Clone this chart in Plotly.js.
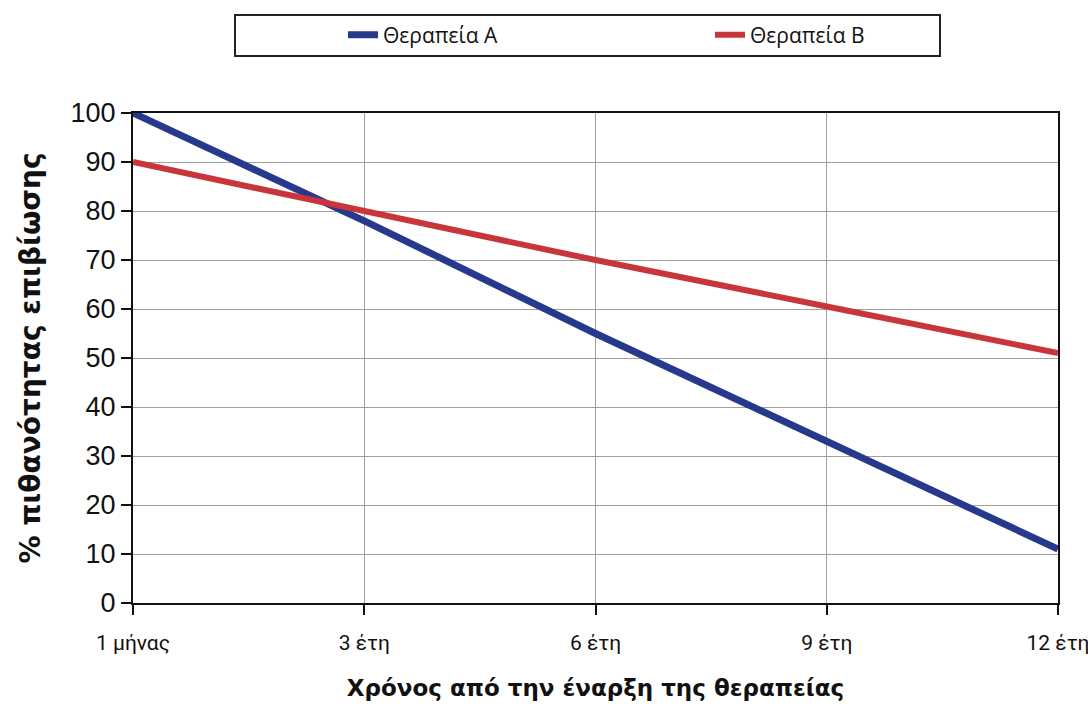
<!DOCTYPE html>
<html>
<head>
<meta charset="utf-8">
<script src="https://cdn.plot.ly/plotly-3.0.1.min.js"></script>
<style>html,body{margin:0;padding:0;background:#fff;}#chart{width:1088px;height:726px;}</style>
</head>
<body>
<div id="chart"></div>
<script>
const categories = ["1 μήνας", "3 έτη", "6 έτη", "9 έτη", "12 έτη"];
const seriesA = [100, 78, 55, 33, 11];
const seriesB = [90, 80, 70, 60.5, 51];
const nameA = "Θεραπεία A";
const nameB = "Θεραπεία B";
const yTicks = [0, 10, 20, 30, 40, 50, 60, 70, 80, 90, 100];

const W = 1088, H = 726;
const L = 133, R = 30, T = 113, B = 123;
const pw = W - L - R, ph = H - T - B;
const px = v => (v - L) / pw;
const py = v => (H - B - v) / ph;

const xIdx = categories.map((c, i) => i);

const traces = [
  {x: xIdx, y: seriesA, name: nameA, type: "scatter", mode: "lines", legend: "legend",
   line: {color: "#27398c", width: 7}},
  {x: xIdx, y: seriesB, name: nameB, type: "scatter", mode: "lines", legend: "legend2",
   line: {color: "#c8363b", width: 6}}
];

const legendFont = {family: "Open Sans, Noto Sans, DejaVu Sans, sans-serif", size: 21, color: "#111"};

const layout = {
  width: W, height: H,
  margin: {l: L, r: R, t: T, b: B},
  paper_bgcolor: "#fff", plot_bgcolor: "#fff",
  font: {family: "Liberation Sans, Arial, sans-serif", color: "#111"},
  xaxis: {
    range: [0, 4], tickvals: xIdx, ticktext: categories,
    showgrid: true, gridcolor: "#a0a0a0", gridwidth: 1,
    showline: true, linecolor: "#111", linewidth: 2, mirror: true,
    ticks: "outside", ticklen: 10, tickwidth: 2, tickcolor: "#111",
    ticklabelstandoff: 10, ticklabeloverflow: "allow",
    tickfont: {family: "Liberation Sans Narrow, Roboto, Liberation Sans, sans-serif", size: 21, color: "#111"},
    zeroline: false,
    title: {text: "Χρόνος από την έναρξη της θεραπείας", standoff: 26,
            font: {family: "DejaVu Sans, sans-serif", size: 23, color: "#111", weight: "bold"}}
  },
  yaxis: {
    range: [0, 100], tickvals: yTicks,
    showgrid: true, gridcolor: "#a0a0a0", gridwidth: 1,
    showline: true, linecolor: "#111", linewidth: 2, mirror: true,
    ticks: "outside", ticklen: 10, tickwidth: 2, tickcolor: "#111",
    ticklabelstandoff: 0,
    tickfont: {family: "Liberation Sans, Arial, sans-serif", size: 27, color: "#111"},
    zeroline: false,
    title: {text: "% πιθανότητας επιβίωσης", standoff: 22,
            font: {family: "DejaVu Sans, sans-serif", size: 28, color: "#111", weight: "bold"}}
  },
  showlegend: true,
  legend: {
    orientation: "h", x: px(343), xanchor: "left", y: py(35), yanchor: "middle",
    bgcolor: "rgba(0,0,0,0)", borderwidth: 0, font: legendFont
  },
  legend2: {
    orientation: "h", x: px(710), xanchor: "left", y: py(35), yanchor: "middle",
    bgcolor: "rgba(0,0,0,0)", borderwidth: 0, font: legendFont
  },
  shapes: [
    {type: "rect", xref: "paper", yref: "paper",
     x0: px(235), x1: px(940), y0: py(56), y1: py(15),
     line: {color: "#222", width: 2}, fillcolor: "rgba(0,0,0,0)", layer: "below"}
  ]
};

Plotly.newPlot("chart", traces, layout, {displayModeBar: false, staticPlot: true});
</script>
</body>
</html>
